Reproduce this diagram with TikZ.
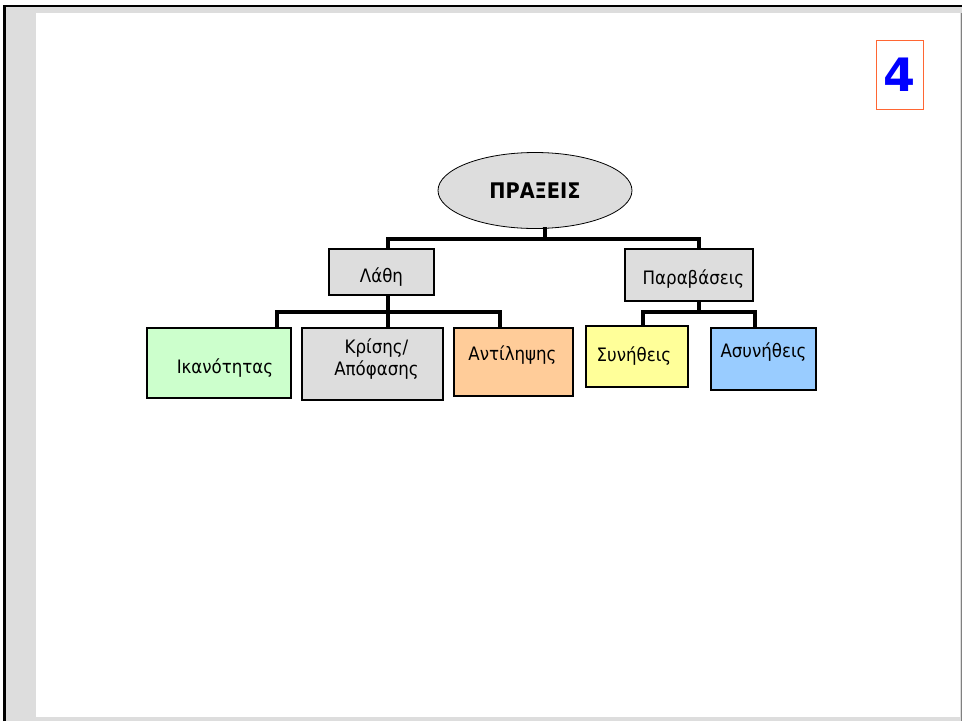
\documentclass[tikz,border=0pt]{standalone}
\usepackage{fontspec}
\setmainfont{DejaVu Sans Condensed}
\newfontfamily\numfont{DejaVu Sans}
\usetikzlibrary{shapes.geometric}
\definecolor{framegray}{HTML}{DDDDDD}
\definecolor{boxgray}{HTML}{DDDDDD}
\definecolor{boxgreen}{HTML}{CCFFCC}
\definecolor{boxorange}{HTML}{FFCC99}
\definecolor{boxyellow}{HTML}{FFFF99}
\definecolor{boxblue}{HTML}{99CCFF}
\definecolor{numred}{HTML}{FF6633}
\begin{document}
\begin{tikzpicture}[x=1pt,y=-1pt,
    box/.style={draw=black, line width=1.3pt, rectangle, inner sep=0pt},
    txt/.style={font=\fontsize{18.5}{22}\selectfont, align=center},
    bus/.style={draw=black, line width=3.2pt, line cap=rect}]
        \useasboundingbox (0,0) rectangle (962,721);

        % πλαίσιο σελίδας
        \fill[white] (0,0) rectangle (962,721);
        \fill[framegray] (5,6) rectangle (962,721);
        \fill[white] (36,13) rectangle (960,717);
        \draw[black, line width=2.5pt] (4.5,721) -- (4.5,6) -- (962,6);
        \draw[gray, line width=1pt] (961.5,13) -- (961.5,721);

        % αριθμός
        \node[draw=numred, line width=1pt, minimum width=47, minimum height=69,
              font=\numfont\fontsize{46}{46}\bfseries\selectfont, text=blue] (num) at (899.5,74.5) {4};

        % ρίζα
        \node[draw=black, line width=0.8pt, ellipse, fill=boxgray, minimum width=194,
              minimum height=76, inner sep=0pt,
              font=\fontsize{21.5}{24}\bfseries\selectfont] (praxeis) at (535,190.5) {ΠΡΑΞΕΙΣ};

        % δεύτερο επίπεδο
        \node[box, fill=boxgray, minimum width=105, minimum height=46,
              label={[txt, yshift=-5]center:Λάθη}] (lathi) at (381.5,272) {};
        \node[box, fill=boxgray, minimum width=128, minimum height=52,
              label={[txt, xshift=4.5, yshift=-4]center:Παραβάσεις}] (paravaseis) at (689,275) {};

        % τρίτο επίπεδο
        \node[box, fill=boxgreen, minimum width=144, minimum height=70,
              label={[txt, xshift=6, yshift=-5]center:Ικανότητας}] (ikanotitas) at (219,363) {};
        \node[box, fill=boxgray, minimum width=141, minimum height=72,
              label={[txt, xshift=4, yshift=5]center:Κρίσης/\\Απόφασης}] (krisis) at (372.5,364) {};
        \node[box, fill=boxorange, minimum width=119, minimum height=68,
              label={[txt, xshift=-1, yshift=7]center:Αντίληψης}] (antilipsi) at (513.5,362) {};
        \node[box, fill=boxyellow, minimum width=102, minimum height=61,
              label={[txt, xshift=-3]center:Συνήθεις}] (synitheis) at (637,356.5) {};
        \node[box, fill=boxblue, minimum width=105, minimum height=62,
              label={[txt, yshift=7]center:Ασυνήθεις}] (asynitheis) at (763.5,359) {};

        % συνδέσεις
        \coordinate (top) at (545,239);
        \coordinate (mid1) at (388,312);
        \coordinate (mid2) at (699,312);
        \draw[bus] ([xshift=10]praxeis.south) -- (top);
        \draw[bus] ([xshift=6.5]lathi.north) |- (top) -| ([xshift=10]paravaseis.north);
        \draw[bus] ([xshift=6.5]lathi.south) -- ([xshift=15.5]krisis.north);
        \draw[bus] ([xshift=58]ikanotitas.north) |- (mid1) -| ([xshift=-13.5]antilipsi.north);
        \draw[bus] ([xshift=10]paravaseis.south) -- (mid2);
        \draw[bus] ([xshift=6]synitheis.north) |- (mid2) -| ([xshift=-8.5]asynitheis.north);
    \end{tikzpicture}
\end{document}
